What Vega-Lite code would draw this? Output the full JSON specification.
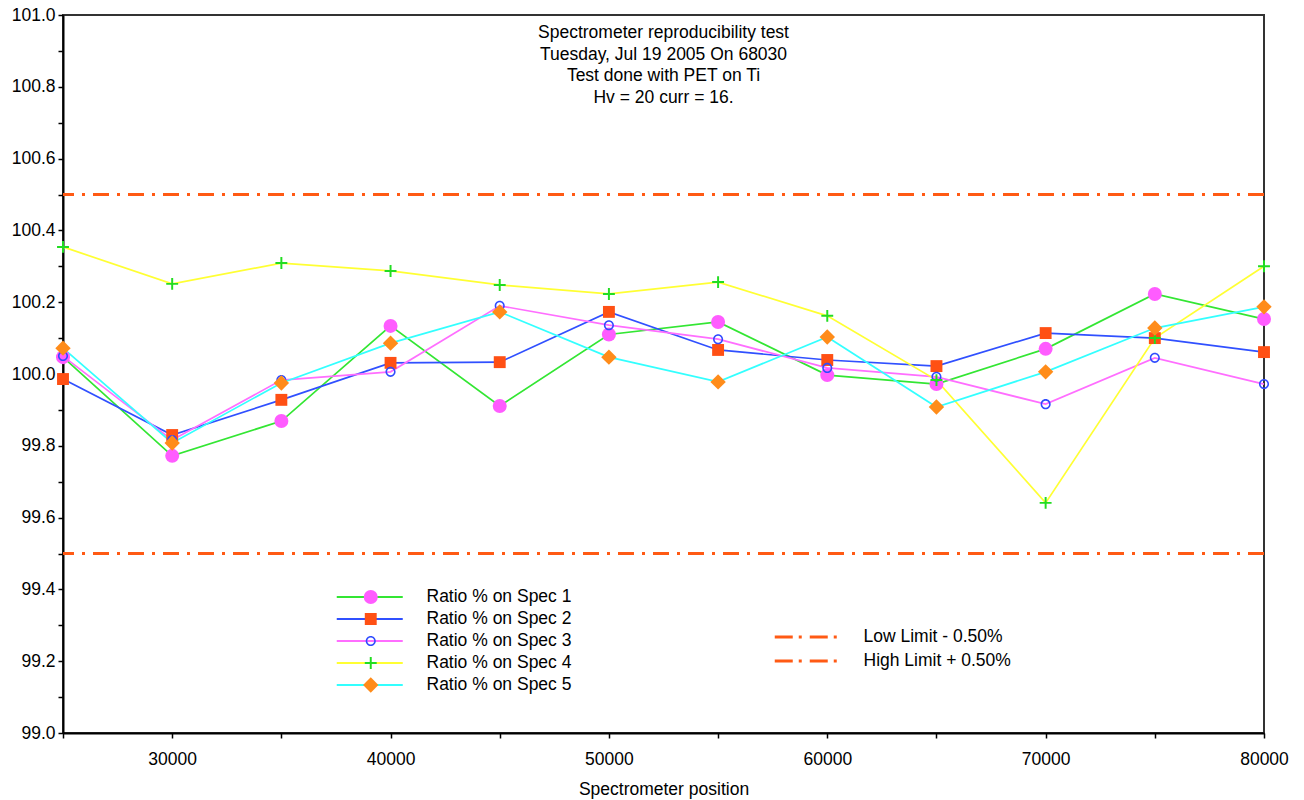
{
  "$schema": "https://vega.github.io/schema/vega-lite/v6.json",
  "autosize": {"type": "none"},
  "padding": {"left": 63, "top": 15, "right": 40, "bottom": 67},
  "width": 1201,
  "height": 718,
  "background": "white",
  "title": {
    "text": ["Spectrometer reproducibility test", "Tuesday, Jul 19 2005 On 68030", "Test done with PET on Ti", "Hv = 20 curr = 16."],
    "orient": "top",
    "anchor": "middle",
    "frame": "group",
    "baseline": "top",
    "offset": -100,
    "font": "Liberation Sans",
    "fontSize": 17.5,
    "fontWeight": "normal",
    "color": "black",
    "lineHeight": 21.5
  },
  "datasets": {
    "ratios": [
      {"pos": 25000, "series": "Ratio % on Spec  1", "ratio": 100.047},
      {"pos": 30000, "series": "Ratio % on Spec  1", "ratio": 99.772},
      {"pos": 35000, "series": "Ratio % on Spec  1", "ratio": 99.869},
      {"pos": 40000, "series": "Ratio % on Spec  1", "ratio": 100.134},
      {"pos": 45000, "series": "Ratio % on Spec  1", "ratio": 99.911},
      {"pos": 50000, "series": "Ratio % on Spec  1", "ratio": 100.110},
      {"pos": 55000, "series": "Ratio % on Spec  1", "ratio": 100.145},
      {"pos": 60000, "series": "Ratio % on Spec  1", "ratio": 99.997},
      {"pos": 65000, "series": "Ratio % on Spec  1", "ratio": 99.972},
      {"pos": 70000, "series": "Ratio % on Spec  1", "ratio": 100.070},
      {"pos": 75000, "series": "Ratio % on Spec  1", "ratio": 100.223},
      {"pos": 80000, "series": "Ratio % on Spec  1", "ratio": 100.153},
      {"pos": 25000, "series": "Ratio % on Spec  2", "ratio": 99.986},
      {"pos": 30000, "series": "Ratio % on Spec  2", "ratio": 99.830},
      {"pos": 35000, "series": "Ratio % on Spec  2", "ratio": 99.928},
      {"pos": 40000, "series": "Ratio % on Spec  2", "ratio": 100.031},
      {"pos": 45000, "series": "Ratio % on Spec  2", "ratio": 100.033},
      {"pos": 50000, "series": "Ratio % on Spec  2", "ratio": 100.173},
      {"pos": 55000, "series": "Ratio % on Spec  2", "ratio": 100.067},
      {"pos": 60000, "series": "Ratio % on Spec  2", "ratio": 100.039},
      {"pos": 65000, "series": "Ratio % on Spec  2", "ratio": 100.022},
      {"pos": 70000, "series": "Ratio % on Spec  2", "ratio": 100.114},
      {"pos": 75000, "series": "Ratio % on Spec  2", "ratio": 100.100},
      {"pos": 80000, "series": "Ratio % on Spec  2", "ratio": 100.061},
      {"pos": 25000, "series": "Ratio % on Spec  3", "ratio": 100.050},
      {"pos": 30000, "series": "Ratio % on Spec  3", "ratio": 99.816},
      {"pos": 35000, "series": "Ratio % on Spec  3", "ratio": 99.983},
      {"pos": 40000, "series": "Ratio % on Spec  3", "ratio": 100.006},
      {"pos": 45000, "series": "Ratio % on Spec  3", "ratio": 100.190},
      {"pos": 50000, "series": "Ratio % on Spec  3", "ratio": 100.136},
      {"pos": 55000, "series": "Ratio % on Spec  3", "ratio": 100.097},
      {"pos": 60000, "series": "Ratio % on Spec  3", "ratio": 100.017},
      {"pos": 65000, "series": "Ratio % on Spec  3", "ratio": 99.992},
      {"pos": 70000, "series": "Ratio % on Spec  3", "ratio": 99.916},
      {"pos": 75000, "series": "Ratio % on Spec  3", "ratio": 100.045},
      {"pos": 80000, "series": "Ratio % on Spec  3", "ratio": 99.972},
      {"pos": 25000, "series": "Ratio % on Spec  4", "ratio": 100.354},
      {"pos": 30000, "series": "Ratio % on Spec  4", "ratio": 100.251},
      {"pos": 35000, "series": "Ratio % on Spec  4", "ratio": 100.309},
      {"pos": 40000, "series": "Ratio % on Spec  4", "ratio": 100.287},
      {"pos": 45000, "series": "Ratio % on Spec  4", "ratio": 100.248},
      {"pos": 50000, "series": "Ratio % on Spec  4", "ratio": 100.223},
      {"pos": 55000, "series": "Ratio % on Spec  4", "ratio": 100.256},
      {"pos": 60000, "series": "Ratio % on Spec  4", "ratio": 100.162},
      {"pos": 65000, "series": "Ratio % on Spec  4", "ratio": 99.983},
      {"pos": 70000, "series": "Ratio % on Spec  4", "ratio": 99.641},
      {"pos": 75000, "series": "Ratio % on Spec  4", "ratio": 100.100},
      {"pos": 80000, "series": "Ratio % on Spec  4", "ratio": 100.300},
      {"pos": 25000, "series": "Ratio % on Spec  5", "ratio": 100.072},
      {"pos": 30000, "series": "Ratio % on Spec  5", "ratio": 99.808},
      {"pos": 35000, "series": "Ratio % on Spec  5", "ratio": 99.975},
      {"pos": 40000, "series": "Ratio % on Spec  5", "ratio": 100.086},
      {"pos": 45000, "series": "Ratio % on Spec  5", "ratio": 100.173},
      {"pos": 50000, "series": "Ratio % on Spec  5", "ratio": 100.047},
      {"pos": 55000, "series": "Ratio % on Spec  5", "ratio": 99.978},
      {"pos": 60000, "series": "Ratio % on Spec  5", "ratio": 100.103},
      {"pos": 65000, "series": "Ratio % on Spec  5", "ratio": 99.908},
      {"pos": 70000, "series": "Ratio % on Spec  5", "ratio": 100.006},
      {"pos": 75000, "series": "Ratio % on Spec  5", "ratio": 100.128},
      {"pos": 80000, "series": "Ratio % on Spec  5", "ratio": 100.187}
    ],
    "limits": [
      {"limit": "Low Limit - 0.50%", "value": 99.5},
      {"limit": "High Limit + 0.50%", "value": 100.5}
    ]
  },
  "encoding": {
    "x": {
      "field": "pos",
      "type": "quantitative",
      "scale": {"domain": [25000, 80000], "nice": false, "zero": false},
      "axis": {
        "title": "Spectrometer position",
        "values": [25000, 30000, 35000, 40000, 45000, 50000, 55000, 60000, 65000, 70000, 75000, 80000],
        "labelExpr": "datum.value % 10000 === 0 ? format(datum.value, 'd') : ''",
        "grid": false,
        "domainColor": "black",
        "domainWidth": 2,
        "tickColor": "black",
        "tickWidth": 1.5,
        "tickSize": 5,
        "labelFont": "Liberation Sans",
        "labelFontSize": 17.5,
        "labelColor": "black",
        "labelPadding": 12,
        "labelFlush": false,
        "labelOverlap": false,
        "titleFont": "Liberation Sans",
        "titleFontSize": 17.5,
        "titleFontWeight": "normal",
        "titleColor": "black",
        "titlePadding": 13
      }
    },
    "y": {
      "field": "ratio",
      "type": "quantitative",
      "scale": {"domain": [99, 101], "nice": false, "zero": false},
      "axis": {
        "title": null,
        "values": [99.0, 99.1, 99.2, 99.3, 99.4, 99.5, 99.6, 99.7, 99.8, 99.9, 100.0, 100.1, 100.2, 100.3, 100.4, 100.5, 100.6, 100.7, 100.8, 100.9, 101.0],
        "labelExpr": "round(datum.value * 10) % 2 === 0 ? format(datum.value, '.1f') : ''",
        "grid": false,
        "domainColor": "black",
        "domainWidth": 2,
        "tickColor": "black",
        "tickWidth": 1.5,
        "tickSize": 5,
        "labelFont": "Liberation Sans",
        "labelFontSize": 17.5,
        "labelColor": "black",
        "labelPadding": 3,
        "labelFlush": false,
        "labelOverlap": false
      }
    }
  },
  "layer": [
    {
      "data": {"name": "limits"},
      "mark": {"type": "rule", "strokeWidth": 3, "strokeDash": [16, 8, 3, 8]},
      "encoding": {
        "x": null,
        "y": {"field": "value", "type": "quantitative"},
        "stroke": {
          "field": "limit",
          "type": "nominal",
          "scale": {"domain": ["Low Limit - 0.50%", "High Limit + 0.50%"], "range": ["#FF5A14", "#FF5A14"]},
          "legend": {
            "title": null,
            "orient": "none",
            "legendX": 710,
            "legendY": 611,
            "padding": 0,
            "clipHeight": 22,
            "symbolType": "M-1,0H8",
            "symbolSize": 196,
            "symbolStrokeWidth": 3,
            "symbolDash": [18, 6, 3, 8],
            "labelFont": "Liberation Sans",
            "labelFontSize": 17.5,
            "labelColor": "black",
            "labelOffset": 73,
            "rowPadding": 2
          }
        }
      }
    },
    {
      "data": {"name": "ratios"},
      "mark": {"type": "line", "strokeWidth": 1.7},
      "encoding": {
        "stroke": {
          "field": "series",
          "type": "nominal",
          "scale": {
            "domain": ["Ratio % on Spec  1", "Ratio % on Spec  2", "Ratio % on Spec  3", "Ratio % on Spec  4", "Ratio % on Spec  5"],
            "range": ["#33E633", "#3050FF", "#FF6EFF", "#FFFF33", "#33FFFF"]
          },
          "legend": {
            "title": null,
            "orient": "none",
            "legendX": 272,
            "legendY": 571,
            "padding": 0,
            "clipHeight": 22,
            "symbolType": "M-1,0H8.43",
            "symbolSize": 196,
            "symbolStrokeWidth": 2,
            "labelFont": "Liberation Sans",
            "labelFontSize": 17.5,
            "labelColor": "black",
            "labelOffset": 74,
            "rowPadding": 0
          }
        }
      }
    },
    {
      "data": {"name": "ratios"},
      "mark": {"type": "point", "filled": true, "size": 196, "opacity": 1, "strokeWidth": 0},
      "encoding": {
        "fill": {
          "field": "series",
          "type": "nominal",
          "scale": {"range": ["#FF5CFF", "#FF5014", "#2F4BFF", "#22DD22", "#FF8C1A"]},
          "legend": {
            "title": null,
            "orient": "none",
            "legendX": 299,
            "legendY": 571,
            "padding": 0,
            "clipHeight": 22,
            "symbolSize": 196,
            "symbolStrokeWidth": 0,
            "symbolOpacity": 1,
            "labelExpr": "''",
            "labelFont": "Liberation Sans",
            "labelFontSize": 17.5,
            "rowPadding": 0
          }
        },
        "shape": {
          "field": "series",
          "type": "nominal",
          "scale": {
            "range": [
              "circle",
              "M-0.85,-0.85H0.85V0.85H-0.85Z",
              "M-0.72,0A0.72,0.72 0 1,1 0.72,0A0.72,0.72 0 1,1 -0.72,0Z M-0.5,0A0.5,0.5 0 1,0 0.5,0A0.5,0.5 0 1,0 -0.5,0Z",
              "M-0.14,-0.85H0.14V-0.14H0.85V0.14H0.14V0.85H-0.14V0.14H-0.85V-0.14H-0.14Z",
              "M0,-1.1L1.1,0L0,1.1L-1.1,0Z"
            ]
          }
        }
      }
    }
  ],
  "resolve": {"scale": {"stroke": "independent", "fill": "independent", "shape": "independent"}},
  "config": {
    "font": "Liberation Sans",
    "view": {"stroke": "#333333", "strokeWidth": 2}
  }
}
